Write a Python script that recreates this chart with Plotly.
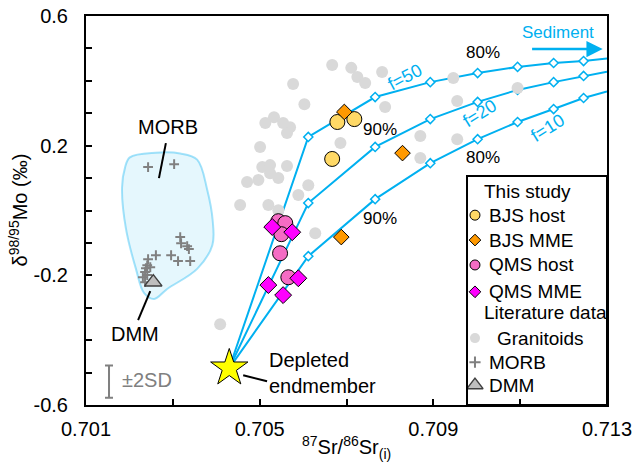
import plotly.graph_objects as go

FONT = "Liberation Sans, Arial, sans-serif"
BLUE = "#00B0F0"

# ---- axis ticks ----
x_ticks = [0.701, 0.705, 0.709, 0.713]
x_tick_text = ["0.701", "0.705", "0.709", "0.713"]
x_minor = [0.703, 0.707, 0.711]
y_ticks = [-0.6, -0.2, 0.2, 0.6]
y_tick_text = ["-0.6", "-0.2", "0.2", "0.6"]

# ---- this study ----
bjs_host_sr = [0.70679, 0.70718, 0.70667]
bjs_host_mo = [0.273, 0.282, 0.159]
bjs_mme_sr = [0.70695, 0.70829, 0.70688]
bjs_mme_mo = [0.304, 0.177, -0.082]
qms_host_sr = [0.70543, 0.70559, 0.70550, 0.70547, 0.70566]
qms_host_mo = [-0.033, -0.039, -0.073, -0.132, -0.206]
qms_mme_sr = [0.70529, 0.70575, 0.70589, 0.70520, 0.70554]
qms_mme_mo = [-0.051, -0.067, -0.209, -0.230, -0.261]

# ---- literature data ----
granitoid_sr = [0.70667, 0.70711, 0.70725, 0.70743, 0.70782, 0.70577, 0.70603,
                0.70789, 0.70513, 0.70533, 0.70554, 0.70570, 0.70563, 0.70501,
                0.70686, 0.70506, 0.70524, 0.70563, 0.70524, 0.70471, 0.70497,
                0.70543, 0.70612, 0.70589, 0.70455, 0.70520, 0.70543, 0.70628,
                0.70946, 0.70955, 0.70870, 0.70955, 0.70870, 0.71094, 0.70409,
                0.70543]
granitoid_mo = [0.449, 0.440, 0.412, 0.393, 0.427, 0.390, 0.328,
                0.319, 0.270, 0.288, 0.270, 0.257, 0.239, 0.196,
                0.208, 0.134, 0.140, 0.137, 0.115, 0.088, 0.094,
                0.100, 0.078, 0.048, 0.017, 0.017, 0.001, -0.070,
                0.409, 0.338, 0.230, 0.220, 0.162, 0.378, -0.351,
                -0.023]
morb_sr = [0.70243, 0.70303, 0.70317, 0.70319, 0.70333, 0.70337, 0.70312,
           0.70340, 0.70296, 0.70261, 0.70243, 0.70241, 0.70238, 0.70236,
           0.70241, 0.70231, 0.70236, 0.70248]
morb_mo = [0.134, 0.143, -0.082, -0.101, -0.110, -0.119, -0.156,
           -0.156, -0.138, -0.138, -0.150, -0.169, -0.178, -0.190,
           -0.199, -0.206, -0.221, -0.175]
dmm_sr = [0.70255]
dmm_mo = [-0.221]

# outline of the MORB field
morb_field_sr = [0.70317, 0.70356, 0.70379, 0.70392, 0.70391, 0.70356, 0.70287,
                 0.70257, 0.70234, 0.70215, 0.70192, 0.70183, 0.70190, 0.70201,
                 0.70260, 0.70317]
morb_field_mo = [0.176, 0.157, 0.065, -0.034, -0.107, -0.180, -0.242,
                 -0.273, -0.255, -0.180, -0.056, 0.071, 0.133, 0.164,
                 0.178, 0.176]

# ---- binary mixing: depleted endmember + sediment ----
depleted_sr = [0.70430]
depleted_mo = [-0.486]
mix_sr = [0.70612, 0.70766, 0.70893, 0.71002, 0.71094, 0.71177, 0.71246]
mix_f50 = [0.227, 0.350, 0.396, 0.424, 0.443, 0.455, 0.461]
mix_f20 = [0.023, 0.196, 0.282, 0.335, 0.372, 0.396, 0.415]
mix_f10 = [-0.141, 0.035, 0.146, 0.220, 0.273, 0.313, 0.347]
edge_sr = 0.713
edge_mo = {"f=50": 0.469, "f=20": 0.428, "f=10": 0.367}

# analytical uncertainty (±2SD)
sd2_sr, sd2_mo, sd2_half = 0.70153, -0.528, 0.05

fig = go.Figure()

# MORB field
fig.add_trace(go.Scatter(
    x=morb_field_sr, y=morb_field_mo, mode="lines", fill="toself",
    fillcolor="rgba(0,176,240,0.10)",
    line=dict(color="rgba(0,176,240,0.35)", width=2, shape="spline", smoothing=1.0),
    hoverinfo="skip", showlegend=False))

fig.add_trace(go.Scatter(
    x=morb_sr, y=morb_mo, mode="markers",
    marker=dict(symbol="cross-thin", size=7, line=dict(color="#808080", width=2)),
    showlegend=False))
fig.add_trace(go.Scatter(
    x=dmm_sr, y=dmm_mo, mode="markers",
    marker=dict(symbol="triangle-up", size=15, color="#BFBFBF",
                line=dict(color="#404040", width=1.5)),
    showlegend=False))

# mixing curves
for name, ys in (("f=50", mix_f50), ("f=20", mix_f20), ("f=10", mix_f10)):
    fig.add_trace(go.Scatter(
        x=depleted_sr + mix_sr + [edge_sr],
        y=depleted_mo + ys + [edge_mo[name]],
        mode="lines", line=dict(color=BLUE, width=2),
        hoverinfo="skip", showlegend=False))
    fig.add_trace(go.Scatter(
        x=mix_sr, y=ys, mode="markers",
        marker=dict(symbol="diamond", size=7, color="white",
                    line=dict(color=BLUE, width=1.5)),
        showlegend=False))

fig.add_trace(go.Scatter(
    x=granitoid_sr, y=granitoid_mo, mode="markers",
    marker=dict(symbol="circle", size=12, color="#D9D9D9"),
    showlegend=False))

fig.add_trace(go.Scatter(
    x=bjs_host_sr, y=bjs_host_mo, mode="markers",
    marker=dict(symbol="circle", size=15, color="#FFD966", line=dict(color="black", width=1)),
    showlegend=False))
fig.add_trace(go.Scatter(
    x=bjs_mme_sr, y=bjs_mme_mo, mode="markers",
    marker=dict(symbol="diamond", size=12, color="#FF9900", line=dict(color="black", width=1)),
    showlegend=False))
fig.add_trace(go.Scatter(
    x=qms_host_sr, y=qms_host_mo, mode="markers",
    marker=dict(symbol="circle", size=15, color="#F56CC4", line=dict(color="black", width=1)),
    showlegend=False))
fig.add_trace(go.Scatter(
    x=qms_mme_sr, y=qms_mme_mo, mode="markers",
    marker=dict(symbol="diamond", size=13, color="#FF00FF", line=dict(color="black", width=1)),
    showlegend=False))

fig.add_trace(go.Scatter(
    x=depleted_sr, y=depleted_mo, mode="markers",
    marker=dict(symbol="star", size=28, color="#FFFF00", line=dict(color="black", width=1)),
    showlegend=False))

# ±2SD bar
fig.add_trace(go.Scatter(
    x=[sd2_sr], y=[sd2_mo], mode="markers",
    marker=dict(size=1, color="rgba(0,0,0,0)"),
    error_y=dict(type="data", array=[sd2_half], color="#808080", thickness=2, width=4),
    showlegend=False, hoverinfo="skip"))

# ---- hand-built legend (drawn on an overlay 0..1 axis pair) ----
legend_rows = [
    ("This study", None),
    ("BJS host", dict(symbol="circle", size=10, color="#FFD966", line=dict(color="black", width=1))),
    ("BJS MME", dict(symbol="diamond", size=9, color="#FF9900", line=dict(color="black", width=1))),
    ("QMS host", dict(symbol="circle", size=10, color="#F56CC4", line=dict(color="black", width=1))),
    ("QMS MME", dict(symbol="diamond", size=9, color="#FF00FF", line=dict(color="black", width=1))),
    ("Literature data", None),
    ("Granitoids", dict(symbol="circle", size=10, color="#D9D9D9")),
    ("MORB", dict(symbol="cross-thin", size=8, line=dict(color="#808080", width=2))),
    ("DMM", dict(symbol="triangle-up", size=14, color="#BFBFBF", line=dict(color="#404040", width=1.5))),
]
legend_y = [0.548, 0.488, 0.424, 0.360, 0.291, 0.239, 0.172, 0.110, 0.051]
legend_sym_x = 0.7466
annotations = []
for (label, mk), ly in zip(legend_rows, legend_y):
    if mk is None:
        tx = 0.760
    else:
        fig.add_trace(go.Scatter(x=[legend_sym_x], y=[ly], mode="markers", marker=mk,
                                 xaxis="x2", yaxis="y2", showlegend=False, hoverinfo="skip"))
        tx = 0.785 if label == "Granitoids" else 0.7697
    annotations.append(dict(x=tx, y=ly, xref="paper", yref="paper", text=label,
                            showarrow=False, xanchor="left", yanchor="middle",
                            font=dict(size=19, color="black", family=FONT)))

def txt(x, y, s, size=20, color="black", angle=0, xanchor="center", align="center"):
    annotations.append(dict(x=x, y=y, xref="x", yref="y", text=s, showarrow=False,
                            textangle=angle, xanchor=xanchor, yanchor="middle", align=align,
                            font=dict(size=size, color=color, family=FONT)))

txt(0.70289, 0.257, "MORB")
txt(0.70213, -0.381, "DMM")
txt(0.70518, -0.500, "Depleted<br>endmember", xanchor="left", align="left")
txt(0.70178, -0.523, "±2SD", color="#808080", xanchor="left")
txt(0.70778, 0.251, "90%", size=17)
txt(0.70778, -0.024, "90%", size=17)
txt(0.71015, 0.486, "80%", size=17)
txt(0.71015, 0.165, "80%", size=17)
txt(0.70835, 0.413, "f=50", size=18, color=BLUE, angle=-28)
txt(0.71008, 0.300, "f=20", size=18, color=BLUE, angle=-32)
txt(0.71163, 0.254, "f=10", size=18, color=BLUE, angle=-32)
txt(0.71188, 0.548, "Sediment", size=17, color=BLUE)

# sediment arrow
annotations.append(dict(x=0.71290, y=0.498, ax=0.71124, ay=0.498, xref="x", yref="y",
                        axref="x", ayref="y", text="", showarrow=True, arrowhead=2,
                        arrowsize=1.3, arrowwidth=2.5, arrowcolor=BLUE))

# axis titles
annotations.append(dict(x=0.5, y=-0.108, xref="paper", yref="paper",
                        text="<sup>87</sup>Sr/<sup>86</sup>Sr<sub>(i)</sub>",
                        showarrow=False, xanchor="center", yanchor="middle",
                        font=dict(size=20, color="black", family=FONT)))
annotations.append(dict(x=-0.1305, y=0.5, xref="paper", yref="paper",
                        text="δ<sup>98/95</sup>Mo (‰)", textangle=-90,
                        showarrow=False, xanchor="center", yanchor="middle",
                        font=dict(size=20, color="black", family=FONT)))

shapes = [
    # leader lines
    dict(type="line", xref="x", yref="y", x0=0.70284, y0=0.208, x1=0.70268, y1=0.100,
         line=dict(color="black", width=2)),
    dict(type="line", xref="x", yref="y", x0=0.70248, y0=-0.249, x1=0.70220, y1=-0.338,
         line=dict(color="black", width=2)),
    dict(type="line", xref="x", yref="y", x0=0.70462, y0=-0.508, x1=0.70517, y1=-0.527,
         line=dict(color="black", width=2)),
    # legend frame
    dict(type="rect", xref="paper", yref="paper", x0=0.7313, x1=1.0, y0=0.0, y1=0.5887,
         line=dict(color="black", width=2), fillcolor="rgba(0,0,0,0)", layer="above"),
]

axis_common = dict(showgrid=False, zeroline=False, showline=True, linecolor="black",
                   linewidth=2, mirror=True, ticks="inside", ticklen=6, tickwidth=2,
                   tickcolor="black", automargin=False,
                   tickfont=dict(size=20, color="black", family=FONT))

fig.update_layout(
    width=633, height=469,
    margin=dict(l=86, r=26, t=16, b=64, autoexpand=False),
    paper_bgcolor="white", plot_bgcolor="white",
    font=dict(family=FONT, color="black"),
    showlegend=False,
    xaxis=dict(range=[0.701, 0.713], tickvals=x_ticks, ticktext=x_tick_text,
               ticklabelstandoff=5,
               minor=dict(tickvals=x_minor, ticks="inside", ticklen=6, tickwidth=2,
                          tickcolor="black"),
               **axis_common),
    yaxis=dict(range=[-0.6, 0.6], tickvals=y_ticks, ticktext=y_tick_text,
               ticklabelstandoff=12,
               minor=dict(dtick=0.1, tick0=-0.6, ticks="inside", ticklen=6, tickwidth=2,
                          tickcolor="black"),
               **axis_common),
    xaxis2=dict(range=[0, 1], overlaying="x", anchor="y2", visible=False),
    yaxis2=dict(range=[0, 1], overlaying="y", anchor="x2", visible=False),
    annotations=annotations,
    shapes=shapes,
)

fig.write_html("out.html")
